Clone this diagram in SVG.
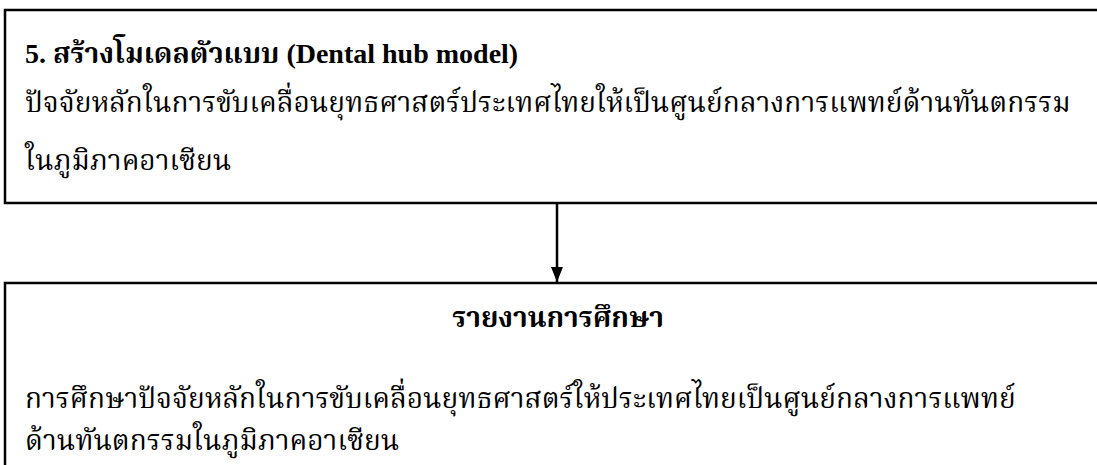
<svg xmlns="http://www.w3.org/2000/svg" width="1097" height="465" viewBox="0 0 1097 465">
<style>
.box{fill:#fff;stroke:#000;stroke-width:2.5}
.t{font-family:"Liberation Serif","Noto Serif Thai","DejaVu Serif",serif;font-size:28px;fill:#000}
.b{font-weight:bold}
</style>
<defs>
<marker id="ah" markerWidth="15" markerHeight="12" refX="15" refY="6" orient="auto" markerUnits="userSpaceOnUse" viewBox="0 0 15 12">
<path d="M0,0 L15,6 L0,12 Z" fill="#000"/>
</marker>
</defs>
<rect width="1097" height="465" fill="#fff"/>
<g id="node-top">
<rect class="box" x="5" y="10" width="1100" height="193"/>
<text class="t b" x="25" y="63">5. สร้างโมเดลตัวแบบ (Dental hub model)</text>
<text class="t" x="25" y="112">ปัจจัยหลักในการขับเคลื่อนยุทธศาสตร์ประเทศไทยให้เป็นศูนย์กลางการแพทย์ด้านทันตกรรม</text>
<text class="t" x="25" y="170">ในภูมิภาคอาเซียน</text>
</g>
<g id="node-bottom">
<rect class="box" x="5" y="283" width="1100" height="200"/>
<text class="t b" x="558" y="327" text-anchor="middle">รายงานการศึกษา</text>
<text class="t" x="25" y="408">การศึกษาปัจจัยหลักในการขับเคลื่อนยุทธศาสตร์ให้ประเทศไทยเป็นศูนย์กลางการแพทย์</text>
<text class="t" x="25" y="450">ด้านทันตกรรมในภูมิภาคอาเซียน</text>
</g>
<g id="connectors">
<line x1="557" y1="203" x2="557" y2="282" stroke="#000" stroke-width="2.5" marker-end="url(#ah)"/>
</g>
</svg>
